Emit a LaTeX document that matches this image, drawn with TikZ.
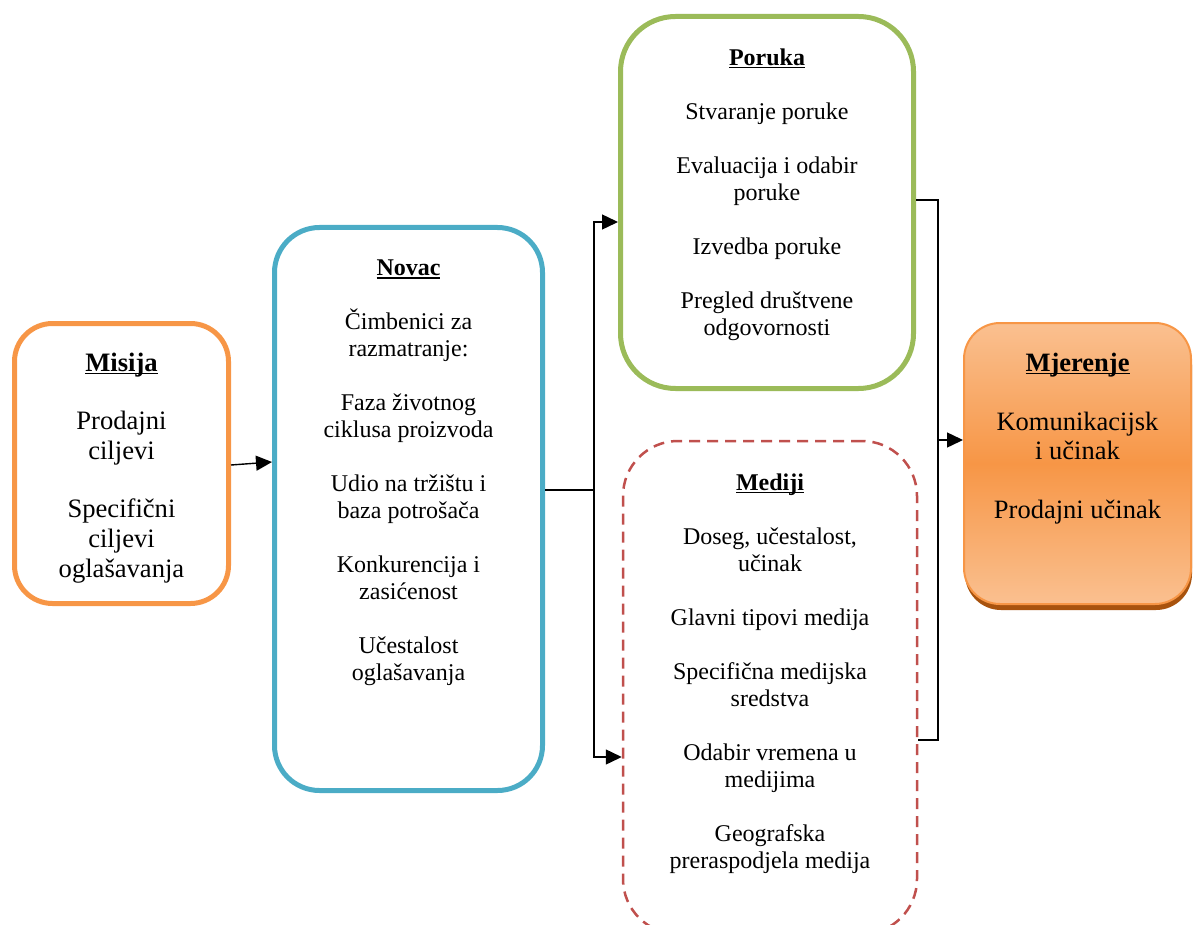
\documentclass[tikz,border=0pt]{standalone}
\usepackage{fontspec}
\setmainfont{Liberation Serif}
\usetikzlibrary{arrows.meta,shadows}
\definecolor{misijaorange}{HTML}{F79646}
\definecolor{novacblue}{HTML}{4BACC6}
\definecolor{porukagreen}{HTML}{9BBB59}
\definecolor{medijired}{HTML}{C0504D}
\definecolor{mjerlight}{HTML}{FAC090}
\definecolor{mjerdark}{HTML}{F79646}
\definecolor{mjershadow}{HTML}{A8530E}
\newcommand*{\BoxTitle}[1]{\setbox0\hbox{\bfseries #1}\rlap{\rule[-2.6pt]{\wd0}{1.3pt}}\box0}

\begin{document}
\begin{tikzpicture}[x=1pt,y=-1pt,
    frame/.style={draw, rounded corners=#1, line width=5pt, inner sep=0pt},
    boxtext/.style={anchor=north, align=center, inner sep=0pt},
    arr/.style={line width=1.4pt, -{Triangle[length=16pt,width=15pt]}}]
    \useasboundingbox (0,0) rectangle (1193,925);

    \node[frame=38pt, draw=misijaorange, minimum width=214pt, minimum height=280pt] (misija) at (121.5,463.5) {};
    \node[frame=45pt, draw=novacblue, minimum width=268pt, minimum height=563pt] (novac) at (408.5,509) {};
    \node[frame=55pt, draw=porukagreen, minimum width=293pt, minimum height=372pt] (poruka) at (767,202.5) {};
    \node[draw=medijired, rounded corners=55pt, line width=2.5pt, dash pattern=on 11pt off 7pt, inner sep=0pt,
        minimum width=294pt, minimum height=493pt] (mediji) at (770,687.5) {};
    \node[draw=misijaorange, rounded corners=36pt, line width=2pt, inner sep=0pt,
        top color=mjerlight, bottom color=mjerlight, middle color=mjerdark,
        drop shadow={shadow xshift=1pt, shadow yshift=-6pt, fill=mjershadow, opacity=1},
        minimum width=227pt, minimum height=281pt] (mjerenje) at (1077.5,463.5) {};

    \node[boxtext, font=\fontsize{26.6}{30}\selectfont] (misijatext) at ([yshift=-32pt]misija.north)
        {\BoxTitle{Misija}\\[28pt] Prodajni\\ ciljevi\\[28pt] Specifični\\ ciljevi\\ oglašavanja};
    \node[boxtext, font=\fontsize{24}{27}\selectfont] (novactext) at ([yshift=-35pt]novac.north)
        {\BoxTitle{Novac}\\[27pt] Čimbenici za\\ razmatranje:\\[27pt] Faza životnog\\ ciklusa proizvoda\\[27pt]
         Udio na tržištu i\\ baza potrošača\\[27pt] Konkurencija i\\ zasićenost\\[27pt] Učestalost\\ oglašavanja};
    \node[boxtext, font=\fontsize{24}{27}\selectfont] (porukatext) at ([yshift=-35pt]poruka.north)
        {\BoxTitle{Poruka}\\[27pt] Stvaranje poruke\\[27pt] Evaluacija i odabir\\ poruke\\[27pt]
         Izvedba poruke\\[27pt] Pregled društvene\\ odgovornosti};
    \node[boxtext, font=\fontsize{24}{27}\selectfont] (medijitext) at ([yshift=-34pt]mediji.north)
        {\BoxTitle{Mediji}\\[27pt] Doseg, učestalost,\\ učinak\\[27pt] Glavni tipovi medija\\[27pt]
         Specifična medijska\\ sredstva\\[27pt] Odabir vremena u\\ medijima\\[27pt] Geografska\\ preraspodjela medija};
    \node[boxtext, font=\fontsize{26.5}{29.5}\selectfont] (mjerenjetext) at ([yshift=-31pt]mjerenje.north)
        {\BoxTitle{Mjerenje}\\[29pt] Komunikacijsk\\ i učinak\\[29pt] Prodajni učinak};

    \coordinate (fork) at (594,490);
    \coordinate (join) at (938,440);

    \draw[arr] ([yshift=-1.5pt]misija.east) -- ([yshift=1.5pt]novac.west |- misija.east);
    \draw[line width=1.4pt] (novac.east |- fork) -- (fork);
    \draw[arr] (fork) |- ([yshift=-19.5pt]poruka.west);
    \draw[arr] (fork) |- ([yshift=-69.5pt]mediji.west);
    \draw[line width=1.4pt] ([yshift=2.5pt]poruka.east) -| (join) |- ([yshift=-52.5pt]mediji.east);
    \draw[arr] (join) -- (join -| mjerenje.west);
\end{tikzpicture}
\end{document}
